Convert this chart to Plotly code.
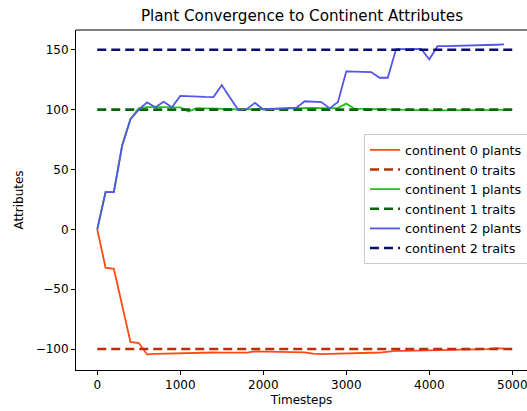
import plotly.graph_objects as go

timesteps = list(range(0, 5000, 100))

continent0_plants = [0, -32, -33, -63, -94, -95, -104.5, -104, -103.8, -103.7,
                     -103.6, -103.2, -102.8, -102.8, -102.9, -103, -103.1, -103.2, -103, -102,
                     -102.1, -102.2, -102.2, -102.2, -102.3, -102.8, -103.8, -104.3, -104, -103.7,
                     -103.5, -103.3, -103.2, -103.1, -103, -102.2, -101.6, -101.5, -101.4, -101.3,
                     -101.2, -100.8, -100.9, -100.7, -100.5, -100.4, -100.2, -100, -99.3, -99.6]

continent1_plants = [0, 31, 31, 70, 92, 101.3, 102, 102.2, 102, 101.8,
                     101.9, 98.5, 101.2, 101, 101, 100.8, 100.5, 100, 100.2, 100.3,
                     100.4, 100.6, 100.8, 101, 101.3, 101.6, 101.4, 101.2, 101, 101.5,
                     105, 100.8, 100.6, 100.8, 100.4, 99.8, 99.7, 99.6, 99.5, 99.4,
                     99.3, 99.4, 99.4, 99.5, 99.5, 99.6, 99.6, 99.7, 99.8, 99.8]

continent2_plants = [0, 31, 31, 70, 92, 100, 106, 102, 106.5, 102,
                     111.5, 111, 110.8, 110.6, 110.5, 120.5, 110, 99.6, 100.3, 105.7,
                     100.1, 100.5, 100.8, 101.2, 101.6, 107, 106.8, 106.3, 101, 106.3,
                     132, 131.7, 131.5, 131.4, 126.6, 126.6, 150.6, 150.6, 150.8, 150.8,
                     142, 153, 153.1, 153.2, 153.3, 153.5, 153.7, 153.9, 154.2, 154.5]

trait_times = [0, 5000]
continent_traits = [-100, 100, 150]

names = ["continent 0", "continent 1", "continent 2"]
plant_colors = ["#ff4a14", "#1fc21f", "#5555e8"]
trait_colors = ["#b8300c", "#0a640a", "#0d0d6e"]
plants = [continent0_plants, continent1_plants, continent2_plants]

font = "DejaVu Sans"
fig = go.Figure()
for i in range(3):
    fig.add_trace(go.Scatter(x=timesteps, y=plants[i], mode="lines",
                             name=f"{names[i]} plants",
                             line=dict(color=plant_colors[i], width=1.8)))
    fig.add_trace(go.Scatter(x=trait_times, y=[continent_traits[i]] * 2, mode="lines",
                             name=f"{names[i]} traits",
                             line=dict(color=trait_colors[i], width=2.6, dash="9px,5px")))

W, H = 527, 411
fig.update_layout(
    width=W, height=H,
    margin=dict(l=76, r=0, t=30, b=41, autoexpand=False),
    paper_bgcolor="white", plot_bgcolor="white",
    font=dict(family=font, size=12, color="black"),
    title=dict(text="Plant Convergence to Continent Attributes",
               x=302 / W, xanchor="center", y=1 - 16 / H, yanchor="middle",
               font=dict(size=15.2, family=font, color="black")),
    legend=dict(x=0.6386, y=0.694, xanchor="left", yanchor="top",
                bgcolor="rgba(255,255,255,0.8)", bordercolor="#cccccc", borderwidth=1,
                font=dict(size=12.8, family=font), tracegroupgap=0),
    showlegend=True,
)
fig.update_xaxes(range=[-256, 5177], tickvals=[0, 1000, 2000, 3000, 4000, 5000],
                 ticks="outside", ticklen=4, tickcolor="black", showgrid=False,
                 zeroline=False, showline=True, linecolor="black", linewidth=1,
                 ticklabeloverflow="allow",
                 title=dict(text="Timesteps", standoff=4, font=dict(size=12)),
                 tickfont=dict(size=12))
fig.update_yaxes(range=[-117.5, 166.5], tickvals=[-100, -50, 0, 50, 100, 150],
                 ticktext=["\u2212100", "\u221250", "0", "50", "100", "150"],
                 ticks="outside", ticklen=4, tickcolor="black", showgrid=False,
                 zeroline=False, showline=True, linecolor="black", linewidth=1,
                 title=dict(text="Attributes", standoff=9, font=dict(size=12)),
                 tickfont=dict(size=12))
fig.add_shape(type="line", xref="paper", yref="paper", x0=0, x1=1, y0=1, y1=1,
              line=dict(color="black", width=1))
# remove the page's default body margin so the figure fills the window exactly
fig.write_html("out.html",
               config={"displayModeBar": False},
               post_script="document.body.style.margin='0';document.body.style.overflow='hidden';")
